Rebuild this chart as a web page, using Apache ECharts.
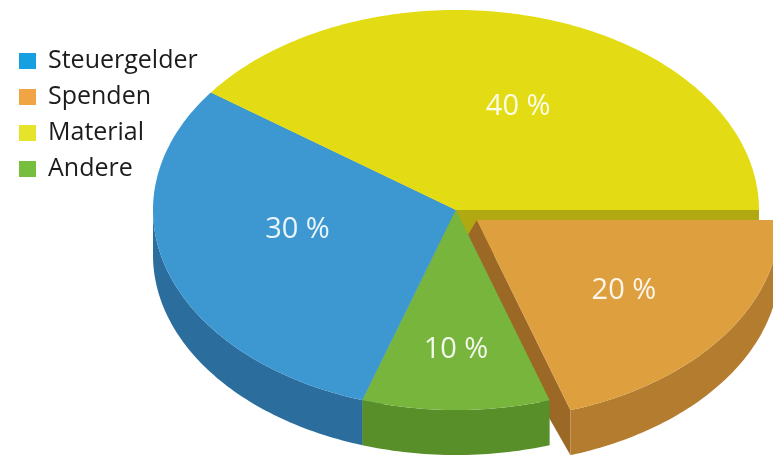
<!DOCTYPE html>
<html>
<head>
<meta charset="utf-8">
<script src="https://cdn.jsdelivr.net/npm/echarts@6/dist/echarts.min.js"></script>
<style>html,body{margin:0;padding:0;background:#fff}#chart{width:773px;height:457px}</style>
</head>
<body>
<div id="chart"></div>
<script>
// ---- data ----
const categories = ['Steuergelder', 'Spenden', 'Material', 'Andere'];
const values = [30, 20, 40, 10];
const exploded = [false, true, false, false];
const labelSuffix = ' %';

// ---- styling / layout ----
const legendColors = ['#16a0e0', '#f0a444', '#e6e42a', '#76bf3e'];
const topColors = ['#3d98d1', '#de9f3f', '#e3dc15', '#78b53c'];
const sideColors = ['#2b6e9d', '#b47c2f', '#b2ab10', '#588f29'];
const radialColors = ['#275f88', '#9c6826', '#b0a912', '#4e8024'];
const sliceOrder = [2, 1, 3, 0];       // clockwise drawing order from startAngle
const startAngle = 306;                // degrees, clockwise from 12 o'clock
const CX = 456, CY = 210, RX = 303, RY = 200, DEPTH = 45, EXPLODE = 0.085;
const labelRadius = [0.55, 0.6, 0.6, 0.7];
const labelShift = [[0, -14], [0, 0], [6, 11], [0, 0]];

const total = values.reduce((a, b) => a + b, 0);
const angles = {};
let acc = startAngle;
sliceOrder.forEach(i => {
  const span = values[i] / total * 360;
  angles[i] = [acc, acc + span];
  acc += span;
});

function pt(a, r, ox, oy, dy) {
  const t = a * Math.PI / 180;
  return [CX + ox + r * RX * Math.sin(t), CY + oy + r * RY * -Math.cos(t) + (dy || 0)];
}
function arc(a1, a2, ox, oy, dy) {
  const pts = [];
  const n = Math.max(2, Math.ceil(Math.abs(a2 - a1)));
  for (let k = 0; k <= n; k++) pts.push(pt(a1 + (a2 - a1) * k / n, 1, ox, oy, dy));
  return pts;
}

function makeRender(i) {
  return function (params, api) {
    const [a1, a2] = angles[i];
    const mid = (a1 + a2) / 2;
    let ox = 0, oy = 0;
    if (exploded[i]) {
      const t = mid * Math.PI / 180;
      ox = EXPLODE * RX * Math.sin(t);
      oy = -EXPLODE * RY * Math.cos(t);
    }
    const children = [];
    const c = [CX + ox, CY + oy];
    const inner = exploded[i] ? [CX, CY + DEPTH] : [c[0], c[1] + DEPTH];
    const zr = exploded[i] ? 1.5 : 1;
    // radial walls
    const sEnd = Math.sin(a2 * Math.PI / 180);
    const sStart = Math.sin(a1 * Math.PI / 180);
    if (sEnd > 0.01) {
      const p = pt(a2, 1, ox, oy);
      children.push({type: 'polygon', z2: zr, shape: {points: [c, p, [p[0], p[1] + DEPTH], inner]},
        style: {fill: radialColors[i]}});
    }
    if (-sStart > 0.01) {
      const p = pt(a1, 1, ox, oy);
      children.push({type: 'polygon', z2: zr, shape: {points: [c, p, [p[0], p[1] + DEPTH], inner]},
        style: {fill: radialColors[i]}});
    }
    // outer wall (front half: 90..270 or 450..630)
    [[90, 270], [450, 630]].forEach(([f1, f2]) => {
      const b1 = Math.max(a1, f1), b2 = Math.min(a2, f2);
      if (b2 - b1 > 0.1) {
        const topArc = arc(b1, b2, ox, oy, 0);
        const botArc = arc(b2, b1, ox, oy, DEPTH);
        children.push({type: 'polygon', z2: 2, shape: {points: topArc.concat(botArc)},
          style: {fill: sideColors[i]}});
      }
    });
    // top face
    children.push({type: 'polygon', z2: 10, shape: {points: [c].concat(arc(a1, a2, ox, oy, 0))},
      style: {fill: topColors[i]}});
    // label
    const lp = pt(mid, labelRadius[i], ox, oy, 0);
    children.push({type: 'text', z2: 20, x: lp[0] + labelShift[i][0], y: lp[1] + labelShift[i][1], style: {
      text: api.value(0) + labelSuffix, fill: 'rgba(255,255,255,0.9)',
      font: '29px "Open Sans", sans-serif', align: 'center', verticalAlign: 'middle'}});
    return {type: 'group', children: children};
  };
}

const chart = echarts.init(document.getElementById('chart'), null, {renderer: 'canvas'});
chart.setOption({
  animation: false,
  legend: {
    data: categories,
    orient: 'vertical', left: 14, top: 43,
    icon: 'rect', itemWidth: 17, itemHeight: 16, itemGap: 10,
    selectedMode: false,
    textStyle: {fontSize: 25, lineHeight: 26, color: '#1c1c1c', fontFamily: '"Open Sans", sans-serif', padding: [0, 0, 0, 7]}
  },
  series: categories.map((name, i) => ({
    type: 'custom', name: name, coordinateSystem: 'none', silent: true,
    itemStyle: {color: legendColors[i]},
    data: [[values[i]]],
    renderItem: makeRender(i)
  }))
});
</script>
</body>
</html>
